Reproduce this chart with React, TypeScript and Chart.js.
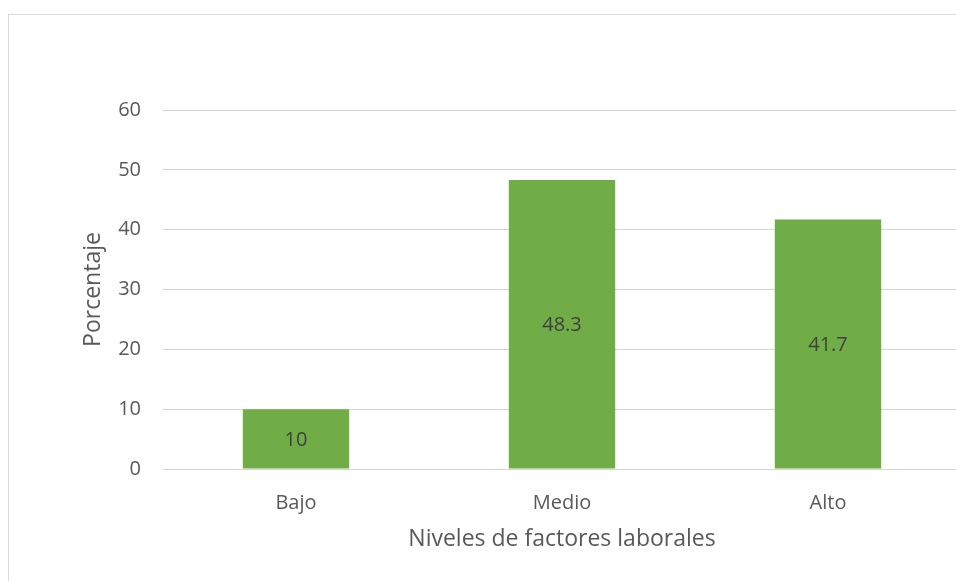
import React, { useEffect, useRef } from "react";
import { Chart, registerables } from "chart.js";

Chart.register(...registerables);

const categories: string[] = ["Bajo", "Medio", "Alto"];
const porcentajes: number[] = [10, 48.3, 41.7];
const yTicks: number[] = [0, 10, 20, 30, 40, 50, 60];
const xTitle = "Niveles de factores laborales";
const yTitle = "Porcentaje";

const FONT = "'Open Sans', 'Noto Sans', sans-serif";

const frame = {
  id: "frame",
  beforeDraw(chart: any) {
    const ctx = chart.ctx;
    ctx.save();
    ctx.fillStyle = "#ffffff";
    ctx.fillRect(0, 0, chart.width, chart.height);
    ctx.strokeStyle = "#d9d9d9";
    ctx.lineWidth = 1;
    ctx.strokeRect(8.5, 14.5, 2000, 2000);
    ctx.restore();
  },
};

const labels = {
  id: "valueLabels",
  afterDatasetsDraw(chart: any) {
    const ctx = chart.ctx;
    const meta = chart.getDatasetMeta(0);
    ctx.save();
    ctx.font = `20px ${FONT}`;
    ctx.fillStyle = "#404040";
    ctx.textAlign = "center";
    ctx.textBaseline = "middle";
    meta.data.forEach((bar: any, i: number) => {
      const p = bar.getProps(["x", "y", "base"], true);
      ctx.fillText(String(porcentajes[i]), p.x, (p.y + p.base) / 2 + 1);
    });
    ctx.restore();
  },
};

export default function App() {
  const ref = useRef<HTMLCanvasElement | null>(null);
  useEffect(() => {
    if (!ref.current) return;
    const chart = new Chart(ref.current, {
      type: "bar",
      data: {
        labels: categories,
        datasets: [
          {
            data: porcentajes,
            backgroundColor: "#70ad47",
            categoryPercentage: 1,
            barPercentage: 0.4,
          },
        ],
      },
      options: {
        animation: false,
        responsive: false,
        devicePixelRatio: 1,
        layout: { padding: { left: 0, right: 19, top: 110, bottom: 0 } },
        plugins: { legend: { display: false }, tooltip: { enabled: false } },
        scales: {
          x: {
            grid: { display: false, drawTicks: false },
            border: { display: false },
            ticks: { color: "#595959", font: { family: FONT, size: 20 }, padding: 22 },
            title: {
              display: true,
              text: xTitle,
              color: "#595959",
              font: { family: FONT, size: 23 },
              padding: { top: 0, bottom: 47 },
            },
            afterFit: (s: any) => {
              s.height = 131;
            },
          },
          y: {
            min: 0,
            max: 60,
            afterBuildTicks: (s: any) => {
              s.ticks = yTicks.map((v) => ({ value: v }));
            },
            grid: { color: "#d6d6d6", lineWidth: 1, drawTicks: false },
            border: { display: false },
            ticks: { color: "#595959", font: { family: FONT, size: 20 }, padding: 22 },
            title: {
              display: true,
              text: yTitle,
              color: "#595959",
              font: { family: FONT, size: 23 },
              padding: { top: 80, bottom: 0 },
            },
            afterFit: (s: any) => {
              s.width = 163;
            },
          },
        },
      },
      plugins: [frame, labels],
    });
    return () => chart.destroy();
  }, []);
  return (
    <div
      style={{
        position: "fixed",
        left: 0,
        top: 0,
        width: 956,
        height: 581,
        overflow: "hidden",
        background: "#fff",
      }}
    >
      <canvas
        ref={ref}
        width={980}
        height={600}
        style={{ position: "absolute", left: 0, top: 0, width: 980, height: 600 }}
      />
    </div>
  );
}
